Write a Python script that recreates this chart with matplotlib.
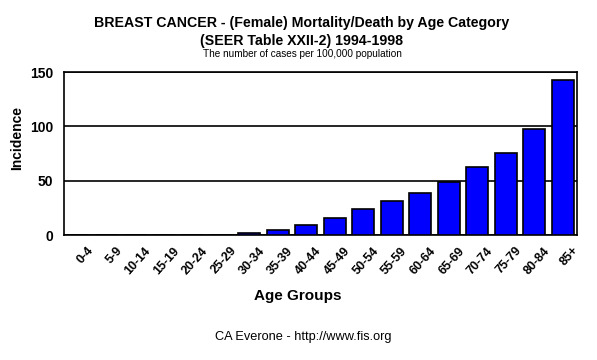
import matplotlib
matplotlib.use('Agg')
import matplotlib.pyplot as plt
import numpy as np
from matplotlib.transforms import ScaledTranslation

# age groups and mortality per 100,000
age_groups = ['0-4', '5-9', '10-14', '15-19', '20-24', '25-29', '30-34', '35-39',
              '40-44', '45-49', '50-54', '55-59', '60-64', '65-69', '70-74',
              '75-79', '80-84', '85+']
deaths = [0.0, 0.0, 0.0, 0.0, 0.0, 0.0, 1.6, 4.6, 9.2, 15.3, 23.6, 31.0,
          38.3, 48.8, 62.3, 75.1, 97.2, 142.6]
y_ticks = [0, 50, 100, 150]

plt.rcParams['font.family'] = ['Liberation Sans', 'DejaVu Sans']

fig = plt.figure(figsize=(5.97, 3.6), dpi=100)
ax = fig.add_axes([0.1072, 0.3472, 0.8593, 0.4528])

x = np.arange(len(age_groups))
ax.bar(x, deaths, width=0.78, color='#0000ff', edgecolor='black', linewidth=1.2, zorder=3)

ax.set_xlim(-0.5, len(age_groups) - 0.5)
ax.set_ylim(0, 150)
ax.set_yticks(y_ticks)
ax.set_yticklabels([str(v) for v in y_ticks], fontsize=10, fontweight='bold')
ax.tick_params(axis='y', length=0, pad=8)
ax.yaxis.grid(True, color='black', linewidth=1.2, zorder=0)

ax.set_xticks(x)
ax.set_xticklabels(age_groups, rotation=48, ha='right', rotation_mode='anchor',
                   fontsize=9, fontweight='bold')
ax.tick_params(axis='x', length=0, pad=7)
offset = ScaledTranslation(9 / 100, 0, fig.dpi_scale_trans)
for lbl in ax.get_xticklabels():
    lbl.set_transform(lbl.get_transform() + offset)

for s in ax.spines.values():
    s.set_linewidth(1.2)
    s.set_color('black')

# y label sits a bit above the axis middle, like the original
fig.text(17 / 597, 1 - 138 / 360, 'Incidence', rotation=90, ha='center', va='center',
         fontsize=10, fontweight='bold')
fig.text(298 / 597, 1 - 296 / 360, 'Age Groups', ha='center', va='center',
         fontsize=11, fontweight='bold')

fig.text(302 / 597, 1 - 23 / 360, 'BREAST CANCER - (Female) Mortality/Death by Age Category',
         ha='center', va='center', fontsize=10.2, fontweight='bold')
fig.text(302 / 597, 1 - 41 / 360, '(SEER Table XXII-2) 1994-1998',
         ha='center', va='center', fontsize=10.2, fontweight='bold')
fig.text(302 / 597, 1 - 54 / 360, 'The number of cases per 100,000 population',
         ha='center', va='center', fontsize=7.2)
fig.text(303 / 597, 1 - 337 / 360, 'CA Everone - http://www.fis.org',
         ha='center', va='center', fontsize=9.2)

fig.savefig('out.png', dpi=100)
